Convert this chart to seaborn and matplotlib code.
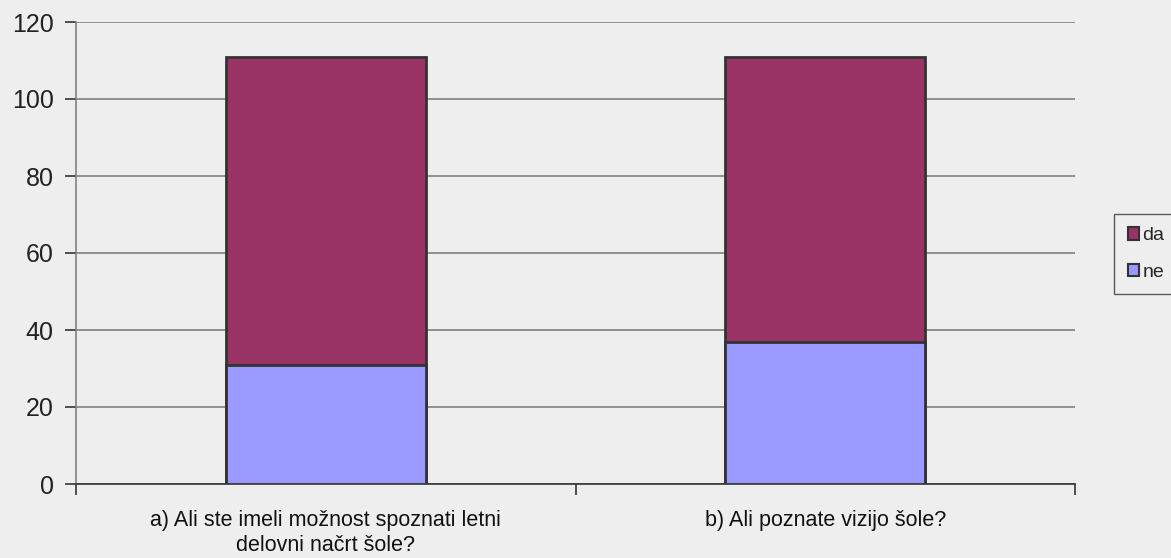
import matplotlib
matplotlib.use("Agg")
import matplotlib.pyplot as plt
import seaborn as sns
import pandas as pd
from matplotlib.patches import Patch

categories = ["a) Ali ste imeli možnost spoznati letni\ndelovni načrt šole?",
              "b) Ali poznate vizijo šole?"]
ne_values = [31, 37]
da_values = [80, 74]
y_ticks = [0, 20, 40, 60, 80, 100, 120]

sns.set_theme(style="white")
plt.rcParams['font.family'] = ['Liberation Sans', 'DejaVu Sans']

bg = "#eeeeee"
col_da = "#993366"
col_ne = "#9999ff"
edge = "#333333"

fig = plt.figure(figsize=(11.71, 5.58), dpi=100, facecolor=bg)
ax = fig.add_axes([76/1171, 74/558, (1075-76)/1171, (484-22)/558])
ax.set_facecolor(bg)

df = pd.DataFrame({"cat": categories,
                   "ne": ne_values,
                   "da": da_values})
df["total"] = df["ne"] + df["da"]

sns.barplot(data=df, x="cat", y="total", color=col_da, width=0.4,
            edgecolor=edge, linewidth=2, saturation=1, ax=ax, zorder=3)
sns.barplot(data=df, x="cat", y="ne", color=col_ne, width=0.4,
            edgecolor=edge, linewidth=2, saturation=1, ax=ax, zorder=4)

ax.set_xlim(-0.5, 1.5)
ax.set_ylim(0, 120)
ax.set_yticks(y_ticks)
ax.yaxis.grid(True, color="#808080", linewidth=1.2, zorder=0)
ax.set_axisbelow(True)
ax.set_xlabel("")
ax.set_ylabel("")

for s in ["top", "right"]:
    ax.spines[s].set_visible(False)
ax.spines["left"].set_color("#808080")
ax.spines["left"].set_linewidth(1.2)
ax.spines["bottom"].set_color("#333333")
ax.spines["bottom"].set_linewidth(1.2)

ax.tick_params(axis="y", left=True, length=8, width=1.2, color="#333333",
               labelsize=18, labelcolor="#222222", pad=8)
ax.set_xticks([-0.5, 0.5, 1.5], minor=True)
ax.tick_params(axis="x", which="minor", bottom=True, length=8, width=1.2, color="#333333")
ax.tick_params(axis="x", which="major", bottom=False, labelsize=15.5, labelcolor="#111111", pad=13)
ax.set_xticks([0, 1])
ax.set_xticklabels(categories, linespacing=1.2)

handles = [Patch(facecolor=col_da, edgecolor=edge, linewidth=1.5, label="da"),
           Patch(facecolor=col_ne, edgecolor=edge, linewidth=1.5, label="ne")]
leg = fig.legend(handles=handles, loc="center left", bbox_to_anchor=(1114/1171, 1 - 254/558),
                 borderaxespad=0, frameon=True, fontsize=14, handlelength=0.6, handleheight=0.6,
                 handletextpad=0.15, labelspacing=1.0, borderpad=0.7, fancybox=False,
                 facecolor=bg, edgecolor="#333333")
leg.get_frame().set_linewidth(1.0)

fig.savefig("out.png", dpi=100, facecolor=bg)
